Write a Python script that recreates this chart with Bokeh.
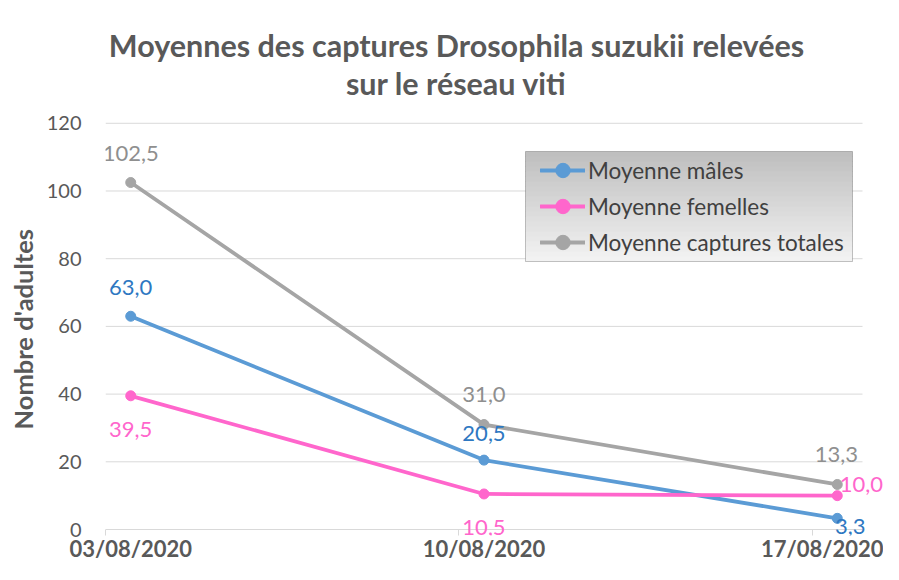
import pandas as pd
from bokeh.plotting import figure
from bokeh.models import (ColumnDataSource, FixedTicker, Range1d, LabelSet, Label, Title,
                          Legend, LegendItem, BoxAnnotation)
from bokeh.core.properties import value
from bokeh.embed import file_html
from bokeh.resources import INLINE

# ---- data ----
dates = ["03/08/2020", "10/08/2020", "17/08/2020"]
males = [63.0, 20.5, 3.3]
females = [39.5, 10.5, 10.0]
totals = [102.5, 31.0, 13.3]
y_ticks = [0, 20, 40, 60, 80, 100, 120]
series_names = ["Moyenne mâles", "Moyenne femelles", "Moyenne captures totales"]
title_lines = ["Moyennes des captures Drosophila suzukii relevées", "sur le réseau viti"]
y_title = "Nombre d'adultes"

# ---- styles ----
FONT = "Lato"
GREY = "#595959"
line_colors = ["#5B9BD5", "#FF66CC", "#A5A5A5"]
label_colors = ["#2E78C2", "#FF66CC", "#8F8F8F"]
label_dx = [[0, 0, 13], [0, 0, 24], [0, 0, -1]]
label_dy = [[29, 27, -8], [-34, -34, 11], [29, 30, 30]]

d = pd.to_datetime(dates, dayfirst=True)
xs = [int((t - d[0]).days) for t in d]

def fmt(v):
    return f"{v:.1f}".replace(".", ",")

# frame geometry (pixels)
W, H = 883, 564
F_LEFT, F_TOP, F_BOTTOM = 105, 10, 536
Y0_PX, Y120_PX = 530, 123
span_days = (xs[-1] - xs[0]) + 1
x_lo = xs[0] - 0.5
x_hi = xs[-1] + 0.5
x_end = x_lo + span_days * (W - F_LEFT) / 757.0
px_per_unit = (Y0_PX - Y120_PX) / float(y_ticks[-1])
y_start = -(F_BOTTOM - Y0_PX) / px_per_unit
y_end = y_ticks[-1] + (Y120_PX - F_TOP) / px_per_unit

p = figure(width=W, height=H, output_backend="svg", toolbar_location=None, title=None,
           x_range=Range1d(x_lo, x_end), y_range=Range1d(y_start, y_end),
           min_border_left=F_LEFT, min_border_right=0, min_border_top=F_TOP,
           min_border_bottom=H - F_BOTTOM)
p.outline_line_color = None
p.background_fill_color = "white"
p.border_fill_color = "white"

# gridlines (the zero line doubles as the category axis line)
p.segment(x0=[x_lo] * len(y_ticks), x1=[x_hi] * len(y_ticks), y0=y_ticks, y1=y_ticks,
          line_color="#D9D9D9", line_width=1)
p.xgrid.visible = False
p.ygrid.visible = False

# x axis: labels at the dates, tick marks between categories
xax = p.xaxis[0]
xax.ticker = FixedTicker(ticks=xs, minor_ticks=[x - 0.5 for x in xs])
xax.major_label_overrides = {x: lab for x, lab in zip(xs, dates)}
xax.axis_line_color = None
xax.major_tick_line_color = None
xax.major_tick_in = 0
xax.major_tick_out = 0
xax.minor_tick_line_color = "#D9D9D9"
xax.minor_tick_in = F_BOTTOM - Y0_PX
xax.minor_tick_out = 0
xax.major_label_standoff = -1
xax.major_label_text_font = FONT
xax.major_label_text_font_style = "bold"
xax.major_label_text_font_size = "22px"
xax.major_label_text_color = GREY

# y axis
yax = p.yaxis[0]
yax.ticker = FixedTicker(ticks=y_ticks)
yax.axis_line_color = None
yax.major_tick_line_color = None
yax.major_tick_out = 0
yax.minor_tick_line_color = None
yax.major_label_standoff = 24
yax.major_label_text_font = FONT
yax.major_label_text_font_size = "20px"
yax.major_label_text_color = GREY

# y axis title, placed beside the 0..120 part of the axis
p.add_layout(Title(text=y_title, align="left", offset=F_BOTTOM - 430, standoff=11,
                   text_font=FONT, text_font_style="bold", text_font_size="25.5px",
                   text_color=GREY), "left")

# legend background (gradient) and border, screen units relative to frame
lg_left, lg_right = 525 - F_LEFT, 852 - F_LEFT
lg_top, lg_bottom = F_BOTTOM - 152, F_BOTTOM - 262
n = 22
c0 = (0xBF, 0xBF, 0xBF)
c1 = (0xF2, 0xF2, 0xF2)
h = (lg_top - lg_bottom) / n
for i in range(n):
    t = i / (n - 1)
    col = "#%02x%02x%02x" % tuple(int(round(a + (b - a) * t)) for a, b in zip(c0, c1))
    p.add_layout(BoxAnnotation(left=lg_left, right=lg_right, top=lg_top - i * h,
                               bottom=max(lg_bottom, lg_top - (i + 1) * h - 0.5),
                               left_units="screen", right_units="screen", top_units="screen", bottom_units="screen",
                               fill_color=col, fill_alpha=1, line_color=None))
p.add_layout(BoxAnnotation(left=lg_left, right=lg_right, top=lg_top, bottom=lg_bottom,
                           left_units="screen", right_units="screen", top_units="screen", bottom_units="screen",
                           fill_alpha=0, line_color="#3A3A3A", line_width=1))

items = []
for vals, name, lc, tc, dx, dy in zip([males, females, totals], series_names, line_colors, label_colors, label_dx, label_dy):
    src = ColumnDataSource(dict(x=xs, y=vals, text=[fmt(v) for v in vals], dx=dx, dy=dy))
    r1 = p.line("x", "y", source=src, line_color=lc, line_width=3.8, line_join="round", line_cap="round")
    r2 = p.scatter("x", "y", source=src, size=10, fill_color=lc, line_color=lc)
    p.add_layout(LabelSet(x="x", y="y", text="text", x_offset="dx", y_offset="dy", source=src,
                          text_align="center", text_baseline="middle", text_font=value(FONT),
                          text_font_size="22px", text_color=tc))
    items.append(LegendItem(label=name, renderers=[r1, r2]))

legend = Legend(items=items, location=(540 - F_LEFT, F_BOTTOM - 171 - 90), padding=15, spacing=0,
                glyph_width=45, glyph_height=36, label_height=36, label_width=200,
                label_standoff=3, background_fill_alpha=0, border_line_color=None,
                label_text_font=FONT, label_text_font_size="22.5px", label_text_color="#404040",
                margin=0)
p.add_layout(legend)

# two-line chart title, drawn inside the (extended) frame area
for line, cy in zip(title_lines, [45, 83]):
    p.add_layout(Label(x=456 - F_LEFT, y=F_BOTTOM - cy, x_units="screen", y_units="screen", text=line,
                       text_align="center", text_baseline="middle", text_font=FONT,
                       text_font_style="bold", text_font_size="30.5px", text_color=GREY))

open("out.html", "w").write(file_html(p, INLINE))
